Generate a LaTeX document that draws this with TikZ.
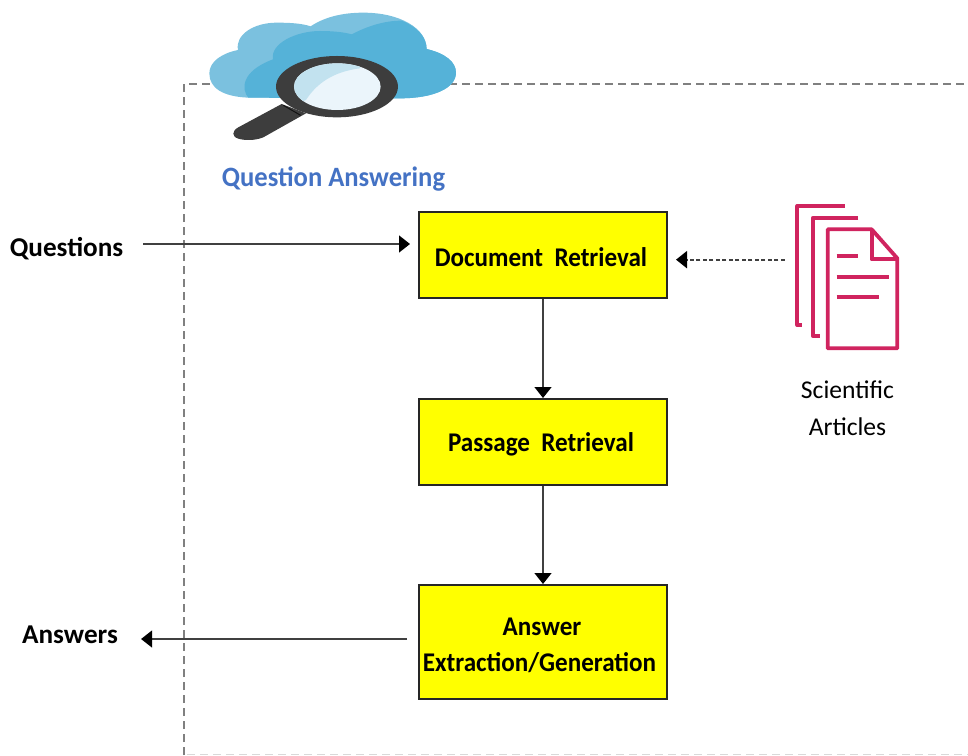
\documentclass[tikz,border=0pt]{standalone}
\usepackage{fontspec}
\setmainfont{Carlito}
\newfontfamily\condfont{Carlito}[BoldFeatures={FakeStretch=0.93}]
\newfontfamily\titlefont{Carlito}[BoldFeatures={FakeStretch=0.95}]
\usetikzlibrary{arrows.meta}
\definecolor{cloudlight}{HTML}{7BC1DF}
\definecolor{clouddark}{HTML}{55B2D8}
\definecolor{glassdark}{HTML}{3D3D3D}
\definecolor{lenslight}{HTML}{EBF5FB}
\definecolor{lensshade}{HTML}{C2E2EF}
\definecolor{docpink}{HTML}{D0245F}
\definecolor{titleblue}{HTML}{4472C4}
\definecolor{boxyellow}{HTML}{FFFF00}
\tikzset{
  procbox/.style={draw=black!85,line width=2pt,fill=boxyellow,minimum width=248pt,inner sep=0pt,align=center,font=\fontsize{27}{36}\condfont\bfseries},
  sidelabel/.style={inner sep=0pt,font=\fontsize{27.2}{36}\selectfont\bfseries},
  conn/.style={line width=1.3pt,black!75,-{Triangle[length=11pt,width=17pt,color=black]}},
  frameline/.style={line width=2.6pt,black!50,dash pattern=on 8pt off 5pt},
  pagestroke/.style={draw=docpink,line width=3.8pt,line join=round}
}
\newcommand{\lift}{\rule{0pt}{24pt}}
\newcommand{\nudge}[1]{\hspace*{#1}}
\begin{document}
\begin{tikzpicture}[x=1pt,y=-1pt]
\useasboundingbox (0,0) rectangle (968,755);
% frame
\draw[frameline] (184,755) -- (184,84) -- (968,84);
\draw[line width=1pt,black!15,dash pattern=on 8pt off 5pt] (187,754.5) -- (968,754.5);
% cloud and magnifier
\begin{scope}[shift={(170,0)},x=0.3333pt,y=-0.3333pt]
\fill[cloudlight] (235,293) .. controls (160,290) and (118,265) .. (118,220)
  .. controls (118,185) and (155,160) .. (204,150)
  .. controls (195,105) and (250,68) .. (320,68)
  .. controls (360,68) and (395,70) .. (422,79)
  .. controls (465,50) and (520,38) .. (580,38)
  .. controls (690,38) and (770,85) .. (770,147)
  .. controls (825,160) and (858,185) .. (858,218)
  .. controls (858,265) and (790,295) .. (690,295) -- cycle;
\fill[clouddark] (235,293) .. controls (215,270) and (210,215) .. (309,178)
  .. controls (300,130) and (380,93) .. (450,93)
  .. controls (490,93) and (525,97) .. (545,103)
  .. controls (590,80) and (640,62) .. (695,62)
  .. controls (740,80) and (770,110) .. (770,147)
  .. controls (825,160) and (858,185) .. (858,218)
  .. controls (858,265) and (790,295) .. (690,295) -- cycle;
\fill[glassdark] (335,312) -- (205,382) .. controls (185,393) and (185,410) .. (205,416)
  .. controls (225,422) and (255,422) .. (280,412) -- (408,340) -- cycle;
\fill[glassdark] (501,260) ellipse [x radius=183,y radius=92];
\draw[black!70!glassdark,line width=1pt] (340,316) -- (392,346);
\fill[lenslight] (502,260) ellipse [x radius=130,y radius=70];
\begin{scope}
\clip (502,260) ellipse [x radius=130,y radius=70];
\fill[lensshade] (360,320) -- (360,180) -- (580,180) -- (570,205)
  .. controls (490,215) and (440,250) .. (408,300) -- cycle;
\end{scope}
\end{scope}
% texts
\node[inner sep=0pt,text=titleblue,font=\fontsize{28}{32}\selectfont\titlefont\bfseries] (title) at (333.5,179.5) {Question Answering};
\node[sidelabel] (q) at (66.5,248.5) {Questions};
\node[sidelabel] (a) at (70,634.5) {Answers};
% boxes
\node[procbox,minimum height=86pt] (doc) at (543,255) {\lift Document\ \ Retrieval\nudge{4pt}};
\node[procbox,minimum height=86pt] (pas) at (543,442) {\lift Passage\ \ Retrieval\nudge{4pt}};
\node[procbox,minimum height=114pt] (ans) at (543,642) {\lift Answer\nudge{2pt}\\Extraction/Generation\nudge{7pt}};
% documents icon
\begin{scope}[shift={(660,190)},x=0.3333pt,y=-0.3333pt]
\draw[pagestroke] (555,48) -- (412,48) -- (412,405) -- (425,405);
\draw[pagestroke] (595,84) -- (458,84) -- (458,438) -- (480,438);
\draw[pagestroke] (503,118) -- (635,118) -- (712,205) -- (712,475) -- (503,475) -- cycle;
\draw[pagestroke] (635,118) -- (635,208) -- (712,208);
\draw[pagestroke] (530,198) -- (595,198);
\draw[pagestroke] (530,261) -- (686,261);
\draw[pagestroke] (530,322) -- (656,322);
\coordinate (icon) at (375,209);
\end{scope}
\node[inner sep=0pt,align=center,font=\fontsize{25.6}{37}\selectfont] (sci) at (847.5,408) {Scientific\\Articles};
% connectors
\coordinate (qs) at (143,244);
\coordinate (as) at (407,639);
\draw[conn,shorten >=8pt] (qs) -- (qs -| doc.west);
\draw[conn] (doc.south) -- (pas.north);
\draw[conn] (pas.south) -- (ans.north);
\draw[conn,shorten >=23pt] (as) -- (as -| a.east);
\draw[conn,line width=2pt,black!75,dash pattern=on 4pt off 2.5pt,shorten >=8pt] (icon) -- (icon -| doc.east);
\end{tikzpicture}
\end{document}
